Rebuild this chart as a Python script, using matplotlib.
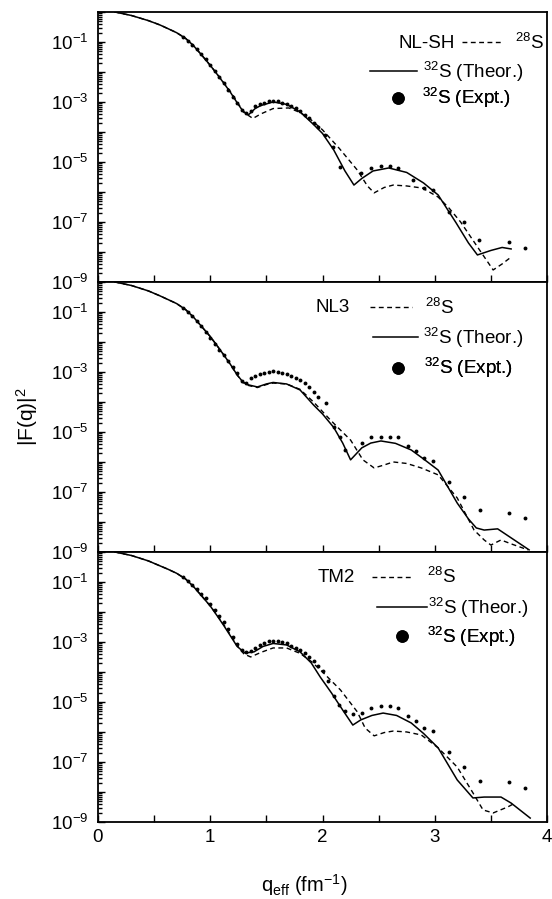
import matplotlib
matplotlib.use("Agg")
import matplotlib.pyplot as plt
import numpy as np
from matplotlib.lines import Line2D
from matplotlib.ticker import FixedLocator, FuncFormatter, LogLocator, MultipleLocator

plt.rcParams["font.family"] = ["Liberation Sans", "DejaVu Sans"]
plt.rcParams["mathtext.fontset"] = "custom"
plt.rcParams["mathtext.rm"] = "Liberation Sans"
plt.rcParams["mathtext.it"] = "Liberation Sans:italic"
plt.rcParams["mathtext.default"] = "regular"

# ---- NL-SH panel (values are log10 |F(q)|^2) ----
q_th1 = [0.15, 0.3, 0.45, 0.55, 0.62, 0.7, 0.78, 0.85, 0.92, 1.0, 1.06, 1.12, 1.18, 1.24, 1.29, 1.34, 1.4, 1.45,
         1.56, 1.68, 1.8, 1.92, 2.0, 2.1, 2.2, 2.28, 2.35, 2.45, 2.59, 2.75, 2.9, 3.03, 3.19, 3.3, 3.38, 3.5, 3.6, 3.68]
lg_th1 = [0, -0.12, -0.29, -0.43, -0.55, -0.69, -0.88, -1.12, -1.42, -1.78, -2.07, -2.37, -2.68, -3.03, -3.3, -3.43,
          -3.22, -3.12, -3.0, -3.08, -3.33, -3.75, -4.05, -4.6, -5.3, -5.77, -5.55, -5.3, -5.2, -5.35, -5.7, -6.1,
          -7.03, -7.7, -8.1, -7.95, -7.85, -7.9]
q_281 = [0.15, 0.3, 0.45, 0.55, 0.62, 0.7, 0.78, 0.85, 0.92, 1.0, 1.06, 1.12, 1.18, 1.24, 1.3, 1.38, 1.45, 1.56,
         1.7, 1.8, 1.9, 2.0, 2.15, 2.31, 2.4, 2.46, 2.55, 2.63, 2.75, 2.89, 3.03, 3.13, 3.23, 3.38, 3.52, 3.6, 3.68]
lg_281 = [0, -0.12, -0.29, -0.43, -0.55, -0.69, -0.88, -1.12, -1.42, -1.78, -2.06, -2.35, -2.66, -3.0, -3.35,
          -3.55, -3.4, -3.22, -3.2, -3.35, -3.6, -3.93, -4.55, -5.27, -5.8, -6.03, -5.85, -5.77, -5.8, -5.87, -6.17,
          -6.55, -7.0, -7.83, -8.6, -8.4, -8.17]
q_ex1 = [0.76, 0.8, 0.84, 0.88, 0.92, 0.96, 1.0, 1.04, 1.08, 1.12, 1.16, 1.2, 1.24, 1.28, 1.32, 1.36,
         1.4, 1.44, 1.48, 1.52, 1.56, 1.6, 1.64, 1.68, 1.72, 1.76, 1.8, 1.84, 1.88, 1.92, 1.96, 2.02,
         2.09, 2.16, 2.34, 2.43, 2.52, 2.6, 2.67, 2.81, 2.9, 2.98, 3.13, 3.26, 3.39, 3.66, 3.8]
lg_ex1 = [-0.84, -0.97, -1.1, -1.25, -1.41, -1.58, -1.77, -1.97, -2.17, -2.38, -2.6, -2.82, -3.05, -3.28, -3.38, -3.3,
          -3.15, -3.07, -3.02, -2.98, -2.97, -2.98, -3.02, -3.07, -3.13, -3.2, -3.3, -3.42, -3.55, -3.7, -3.85, -4.1,
          -4.5, -5.17, -5.37, -5.2, -5.15, -5.15, -5.2, -5.6, -5.87, -5.93, -6.67, -7.0, -7.6, -7.67, -7.87]

# ---- NL3 panel ----
q_th2 = [0.15, 0.3, 0.45, 0.55, 0.62, 0.7, 0.78, 0.85, 0.92, 1.0, 1.06, 1.12, 1.18, 1.24, 1.29, 1.34, 1.42, 1.5,
         1.56, 1.68, 1.8, 1.92, 2.0, 2.1, 2.18, 2.25, 2.35, 2.43, 2.52, 2.65, 2.79, 2.9, 3.03, 3.2, 3.3, 3.37, 3.44,
         3.56, 3.68, 3.84]
lg_th2 = [0, -0.12, -0.3, -0.46, -0.58, -0.72, -0.92, -1.17, -1.47, -1.82, -2.12, -2.43, -2.75, -3.1, -3.33, -3.43,
          -3.5, -3.4, -3.35, -3.4, -3.6, -4.1, -4.4, -4.85, -5.37, -5.93, -5.53, -5.37, -5.3, -5.38, -5.6, -5.9,
          -6.27, -7.37, -7.9, -8.2, -8.27, -8.23, -8.53, -8.93]
q_282 = [0.15, 0.3, 0.45, 0.55, 0.62, 0.7, 0.78, 0.85, 0.92, 1.0, 1.06, 1.12, 1.18, 1.24, 1.29, 1.34, 1.42, 1.5,
         1.56, 1.68, 1.8, 1.92, 2.07, 2.15, 2.25, 2.36, 2.46, 2.55, 2.63, 2.75, 2.88, 3.03, 3.2, 3.35, 3.44, 3.5,
         3.59, 3.68, 3.83]
lg_282 = [0, -0.12, -0.3, -0.46, -0.58, -0.72, -0.92, -1.17, -1.47, -1.82, -2.12, -2.43, -2.75, -3.1, -3.35, -3.45,
          -3.52, -3.42, -3.37, -3.4, -3.58, -4.0, -4.6, -4.9, -5.27, -5.93, -6.2, -6.1, -6.0, -6.05, -6.2, -6.43,
          -7.2, -8.27, -8.6, -8.77, -8.6, -8.73, -8.93]
q_ex2 = [0.76, 0.8, 0.84, 0.88, 0.92, 0.96, 1.0, 1.04, 1.08, 1.12, 1.16, 1.2, 1.24, 1.28, 1.32, 1.36,
         1.4, 1.44, 1.48, 1.52, 1.56, 1.6, 1.64, 1.68, 1.72, 1.76, 1.8, 1.84, 1.88, 1.92, 1.96, 2.03,
         2.1, 2.16, 2.2, 2.35, 2.43, 2.52, 2.6, 2.67, 2.76, 2.83, 2.9, 2.98, 3.13, 3.26, 3.4, 3.66, 3.8]
lg_ex2 = [-0.88, -1.01, -1.15, -1.31, -1.48, -1.66, -1.86, -2.06, -2.27, -2.45, -2.62, -2.83, -3.05, -3.3, -3.38, -3.2,
          -3.12, -3.07, -3.03, -3.0, -2.98, -3.0, -3.03, -3.08, -3.13, -3.2, -3.28, -3.38, -3.5, -3.68, -3.85, -4.03,
          -4.83, -5.17, -5.6, -5.37, -5.17, -5.17, -5.17, -5.17, -5.47, -5.63, -5.87, -5.97, -6.67, -7.17, -7.6, -7.7, -7.87]

# ---- TM2 panel ----
q_th3 = [0.15, 0.3, 0.45, 0.55, 0.62, 0.7, 0.78, 0.85, 0.92, 1.0, 1.06, 1.12, 1.18, 1.24, 1.31, 1.39, 1.47, 1.56,
         1.68, 1.8, 1.9, 1.98, 2.08, 2.18, 2.27, 2.34, 2.44, 2.54, 2.66, 2.79, 2.9, 3.03, 3.2, 3.34, 3.44, 3.59,
         3.68, 3.85]
lg_th3 = [0, -0.12, -0.3, -0.46, -0.57, -0.71, -0.9, -1.15, -1.45, -1.8, -2.12, -2.45, -2.8, -3.15, -3.37, -3.33,
          -3.15, -3.05, -3.1, -3.33, -3.7, -4.17, -4.7, -5.27, -5.77, -5.6, -5.45, -5.37, -5.45, -5.7, -6.05, -6.53,
          -7.6, -8.2, -8.17, -8.17, -8.37, -8.87]
q_283 = [0.15, 0.3, 0.45, 0.55, 0.62, 0.7, 0.78, 0.85, 0.92, 1.0, 1.06, 1.12, 1.18, 1.24, 1.3, 1.36, 1.45, 1.56,
         1.68, 1.8, 1.9, 2.0, 2.16, 2.31, 2.38, 2.46, 2.55, 2.63, 2.75, 2.88, 3.03, 3.2, 3.34, 3.43, 3.52, 3.65, 3.7]
lg_283 = [0, -0.12, -0.3, -0.46, -0.57, -0.71, -0.9, -1.15, -1.45, -1.8, -2.1, -2.42, -2.76, -3.12, -3.4, -3.5,
          -3.35, -3.2, -3.2, -3.38, -3.65, -4.0, -4.6, -5.33, -5.87, -6.13, -6.02, -5.97, -6.0, -6.1, -6.53, -7.17,
          -8.03, -8.6, -8.7, -8.5, -8.4]
q_ex3 = [0.76, 0.8, 0.84, 0.88, 0.92, 0.96, 1.0, 1.04, 1.08, 1.12, 1.16, 1.2, 1.24, 1.28, 1.32, 1.36,
         1.4, 1.44, 1.48, 1.52, 1.56, 1.6, 1.64, 1.68, 1.72, 1.76, 1.8, 1.84, 1.88, 1.92, 1.96, 2.0,
         2.05, 2.1, 2.15, 2.2, 2.27, 2.35, 2.43, 2.52, 2.6, 2.67, 2.76, 2.83, 2.9, 2.98, 3.13, 3.26, 3.4, 3.66, 3.8]
lg_ex3 = [-0.84, -0.96, -1.09, -1.23, -1.39, -1.55, -1.73, -1.93, -2.13, -2.35, -2.58, -2.82, -3.06, -3.27, -3.35, -3.3,
          -3.2, -3.1, -3.03, -2.98, -2.97, -2.98, -3.0, -3.05, -3.12, -3.2, -3.28, -3.38, -3.5, -3.65, -3.8, -3.97,
          -4.3, -4.8, -5.1, -5.3, -5.4, -5.37, -5.2, -5.13, -5.13, -5.2, -5.47, -5.63, -5.87, -5.97, -6.67, -7.17, -7.63, -7.67, -7.87]

MODELS = ["NL-SH", "NL3", "TM2"]
PANELS = [
    (q_th1, lg_th1, q_281, lg_281, q_ex1, lg_ex1),
    (q_th2, lg_th2, q_282, lg_282, q_ex2, lg_ex2),
    (q_th3, lg_th3, q_283, lg_283, q_ex3, lg_ex3),
]
LABELS = [r"$^{28}$S", r"$^{32}$S (Theor.)", r"$^{32}$S (Expt.)"]

# key layout per panel: name x, row ys, (x, handlelength, pad) for each row
KEYS = [
    (0.795, [0.885, 0.778, 0.681], [(0.811, 2.2, 0.64), (0.606, 2.5, 0.32), (0.647, 1.0, 0.8)]),
    (0.561, [0.904, 0.793, 0.681], [(0.606, 2.25, 0.69), (0.612, 2.4, 0.27), (0.647, 1.0, 0.87)]),
    (0.572, [0.907, 0.793, 0.685], [(0.610, 2.2, 0.75), (0.621, 2.67, 0.05), (0.656, 1.0, 0.85)]),
]
FS = 13.5


def log_label(v, pos):
    e = int(round(np.log10(v)))
    if e % 2 == 0:
        return ""
    return r"$10^{%d}$" % e


def add_key(ax, handle, label, x, y, hl, pad):
    leg = ax.legend([handle], [label], loc="center left", bbox_to_anchor=(x, y),
                    frameon=False, fontsize=FS, handlelength=hl, handletextpad=pad,
                    borderpad=0, borderaxespad=0)
    ax.add_artist(leg)


fig, axes = plt.subplots(3, 1, figsize=(5.52, 8.99), dpi=100, sharex=True)
fig.subplots_adjust(left=0.1775, right=0.991, top=0.9867, bottom=0.0857, hspace=0)

for ax, name, data, key in zip(axes, MODELS, PANELS, KEYS):
    qt, lt, q28, l28, qe, le = data
    ax.plot(q28, 10 ** np.array(l28), color="black", lw=1.0, dashes=(3.5, 2.5))
    ax.plot(qt, 10 ** np.array(lt), color="black", lw=1.1)
    ax.plot(qe, 10 ** np.array(le), "o", color="black", ms=2.8, mew=0)

    ax.set_yscale("log")
    ax.set_ylim(1e-9, 1)
    ax.set_xlim(0, 4)
    ax.yaxis.set_major_locator(FixedLocator([10.0 ** e for e in range(-9, 1)]))
    ax.yaxis.set_major_formatter(FuncFormatter(log_label))
    ax.yaxis.set_minor_locator(LogLocator(base=10, subs=np.arange(2, 10), numticks=20))
    ax.xaxis.set_major_locator(MultipleLocator(1))
    ax.xaxis.set_minor_locator(MultipleLocator(0.5))
    ax.tick_params(which="both", direction="in", top=False, right=False, labelsize=FS, width=1.0)
    ax.tick_params(axis="y", which="major", length=5, pad=7)
    ax.tick_params(axis="y", which="minor", length=3)
    ax.tick_params(axis="x", which="both", length=5, pad=5)
    for sp in ax.spines.values():
        sp.set_linewidth(1.3)

    name_x, rows, spec = key
    ax.text(name_x, rows[0], name, transform=ax.transAxes, ha="right", va="center", fontsize=FS)
    handles = [
        Line2D([], [], color="black", lw=1.0, dashes=(3.5, 2.5)),
        Line2D([], [], color="black", lw=1.1),
        Line2D([], [], marker="o", ls="none", color="black", ms=8),
    ]
    for h, lab, y, (x, hl, pad) in zip(handles, LABELS, rows, spec):
        add_key(ax, h, lab, x, y, hl, pad)

axes[1].set_ylabel(r"|F(q)|$^{2}$", fontsize=15, labelpad=8)
axes[2].set_xlabel(r"q$_{eff}$ (fm$^{-1}$)", fontsize=14.5)
axes[2].xaxis.set_label_coords(0.46, -0.185)

fig.savefig("out.png", dpi=100)
